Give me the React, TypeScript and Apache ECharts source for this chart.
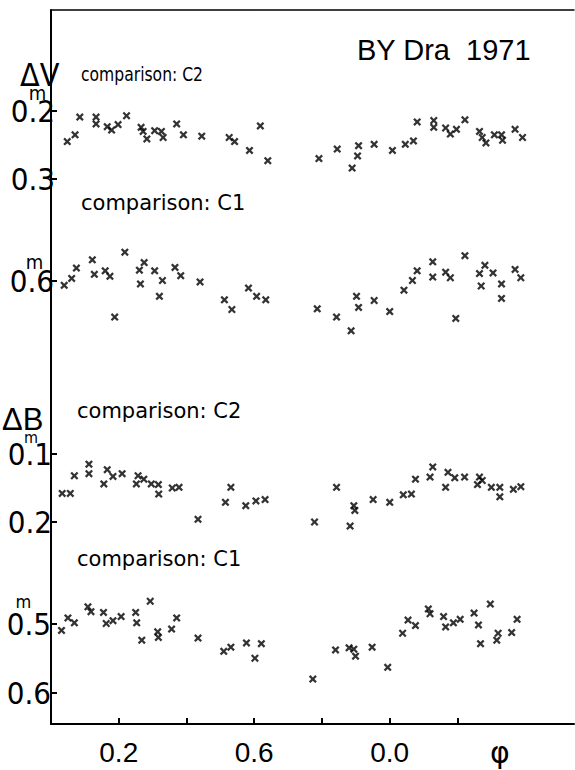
import React, { useEffect, useRef } from "react";
import * as echarts from "echarts";

// ΔV, comparison C2
const vC2Phase = [0.048, 0.071, 0.085, 0.133, 0.133, 0.166, 0.179, 0.198, 0.223, 0.266, 0.272, 0.283, 0.306, 0.326, 0.331, 0.371, 0.391, 0.445, 0.526, 0.542, 0.586, 0.618, 0.640, 0.791, 0.845, 0.889, 0.905, 0.908, 0.954, 1.008, 1.046, 1.070, 1.081, 1.130, 1.130, 1.165, 1.179, 1.197, 1.222, 1.265, 1.273, 1.284, 1.309, 1.330, 1.333, 1.370, 1.392];
const vC2Mag = [0.245, 0.235, 0.209, 0.209, 0.219, 0.223, 0.228, 0.220, 0.207, 0.224, 0.230, 0.241, 0.229, 0.230, 0.239, 0.219, 0.235, 0.237, 0.239, 0.245, 0.258, 0.222, 0.273, 0.270, 0.256, 0.284, 0.266, 0.251, 0.249, 0.258, 0.249, 0.244, 0.216, 0.214, 0.224, 0.225, 0.234, 0.227, 0.213, 0.230, 0.239, 0.247, 0.235, 0.235, 0.243, 0.227, 0.239];

// ΔV, comparison C1
const vC1Phase = [0.039, 0.061, 0.075, 0.122, 0.128, 0.160, 0.174, 0.188, 0.218, 0.261, 0.264, 0.275, 0.306, 0.320, 0.329, 0.366, 0.383, 0.440, 0.512, 0.534, 0.583, 0.607, 0.634, 0.786, 0.843, 0.886, 0.902, 0.908, 0.954, 1.000, 1.042, 1.067, 1.081, 1.127, 1.127, 1.165, 1.179, 1.195, 1.222, 1.265, 1.270, 1.281, 1.305, 1.330, 1.330, 1.370, 1.387];
const vC1Mag = [0.607, 0.597, 0.582, 0.570, 0.591, 0.586, 0.594, 0.653, 0.559, 0.585, 0.605, 0.574, 0.586, 0.623, 0.600, 0.581, 0.593, 0.602, 0.628, 0.642, 0.611, 0.623, 0.628, 0.641, 0.653, 0.673, 0.623, 0.639, 0.629, 0.645, 0.614, 0.600, 0.586, 0.573, 0.595, 0.588, 0.596, 0.655, 0.564, 0.590, 0.608, 0.578, 0.589, 0.605, 0.626, 0.584, 0.596];

// ΔB, comparison C2
const bC2Phase = [0.033, 0.057, 0.069, 0.112, 0.112, 0.156, 0.166, 0.183, 0.210, 0.252, 0.257, 0.274, 0.296, 0.317, 0.318, 0.358, 0.378, 0.434, 0.515, 0.531, 0.575, 0.605, 0.632, 0.778, 0.843, 0.883, 0.894, 0.897, 0.951, 1.000, 1.040, 1.064, 1.076, 1.119, 1.127, 1.165, 1.172, 1.192, 1.221, 1.259, 1.265, 1.273, 1.300, 1.325, 1.325, 1.365, 1.387];
const bC2Mag = [0.158, 0.158, 0.132, 0.115, 0.129, 0.144, 0.123, 0.133, 0.129, 0.144, 0.132, 0.137, 0.144, 0.145, 0.159, 0.150, 0.149, 0.196, 0.171, 0.149, 0.176, 0.169, 0.167, 0.200, 0.149, 0.206, 0.176, 0.183, 0.167, 0.171, 0.160, 0.159, 0.137, 0.134, 0.119, 0.149, 0.127, 0.135, 0.134, 0.145, 0.134, 0.139, 0.149, 0.149, 0.163, 0.152, 0.148];

// ΔB, comparison C1
const bC1Phase = [0.031, 0.050, 0.069, 0.109, 0.118, 0.155, 0.163, 0.183, 0.207, 0.250, 0.253, 0.268, 0.293, 0.315, 0.317, 0.356, 0.371, 0.434, 0.510, 0.531, 0.577, 0.602, 0.621, 0.773, 0.840, 0.880, 0.894, 0.899, 0.948, 0.994, 1.038, 1.054, 1.076, 1.114, 1.119, 1.159, 1.165, 1.188, 1.208, 1.249, 1.262, 1.268, 1.297, 1.316, 1.320, 1.360, 1.376];
const bC1Mag = [0.510, 0.492, 0.499, 0.476, 0.483, 0.484, 0.500, 0.496, 0.490, 0.484, 0.499, 0.524, 0.468, 0.512, 0.520, 0.508, 0.492, 0.521, 0.540, 0.534, 0.528, 0.550, 0.529, 0.580, 0.538, 0.535, 0.537, 0.547, 0.534, 0.563, 0.514, 0.495, 0.503, 0.479, 0.486, 0.490, 0.505, 0.499, 0.494, 0.485, 0.502, 0.529, 0.472, 0.524, 0.514, 0.513, 0.494];

const phaseTicks = [0.2, 0.4, 0.6, 0.8, 1.0, 1.2];
const phaseLabels = [0.2, 0.6, 1.0];
const vC2Ticks = [0.2, 0.3];
const vC1Ticks = [0.6];
const bC2Ticks = [0.1, 0.2];
const bC1Ticks = [0.5, 0.6];

const X_MIN = 0;
const X_MAX = 1.544;

const CROSS =
  "path://M0,2 L2,0 L5,3 L8,0 L10,2 L7,5 L10,8 L8,10 L5,7 L2,10 L0,8 L3,5 Z";

const NARROW = "'Liberation Sans Narrow', 'DejaVu Sans Condensed', sans-serif";
const SANS = "'Liberation Sans', Arial, sans-serif";
const DEJAVU = "'DejaVu Sans', sans-serif";

function zip(a: number[], b: number[]) {
  return a.map((x, i) => [x, b[i]]);
}

function panelY(idx: number, min: number, max: number, ticks: number[], margin: number) {
  return {
    gridIndex: idx,
    type: "value",
    inverse: true,
    min,
    max,
    axisLine: { show: false },
    splitLine: { show: false },
    axisTick: {
      show: true,
      inside: true,
      length: 6,
      customValues: ticks,
      lineStyle: { color: "#000", width: 2 },
    },
    axisLabel: {
      show: true,
      customValues: ticks,
      margin,
      fontSize: 31,
      fontFamily: NARROW,
      color: "#000",
      formatter: (v: number) => v.toFixed(1),
    },
  };
}

function panelX(idx: number) {
  return { gridIndex: idx, type: "value", min: X_MIN, max: X_MAX, show: false };
}

function scatter(idx: number, xs: number[], ys: number[]) {
  return {
    type: "scatter",
    xAxisIndex: idx + 1,
    yAxisIndex: idx,
    data: zip(xs, ys),
    symbol: CROSS,
    symbolSize: 8,
    clip: false,
    silent: true,
    itemStyle: { color: "#000" },
  };
}

export default function App() {
  const ref = useRef<HTMLDivElement>(null);
  useEffect(() => {
    document.body.style.margin = "0";
    if (!ref.current) return;
    const chart = echarts.init(ref.current, null, { renderer: "svg" });
    const txt = (
      text: string,
      x: number,
      y: number,
      fontSize: number,
      family: string,
      align = "left",
      scaleX = 1
    ) => ({
      type: "text",
      x,
      y,
      scaleX,
      silent: true,
      style: {
        text,
        fill: "#000",
        font: `${fontSize}px ${family}`,
        textAlign: align,
        textVerticalAlign: "middle",
      },
    });
    chart.setOption({
      animation: false,
      backgroundColor: "#fff",
      grid: [
        { left: 51, width: 523, top: 10, height: 714 },
        { left: 51, width: 523, top: 77, height: 102 },
        { left: 51, width: 523, top: 211.5, height: 138 },
        { left: 51, width: 523, top: 420, height: 136 },
        { left: 51, width: 523, top: 588.75, height: 139 },
      ],
      xAxis: [
        {
          gridIndex: 0,
          type: "value",
          position: "bottom",
          min: X_MIN,
          max: X_MAX,
          splitLine: { show: false },
          axisLine: { show: true, onZero: false, lineStyle: { color: "#000", width: 2 } },
          axisTick: {
            show: true,
            inside: true,
            length: 6,
            customValues: phaseTicks,
            lineStyle: { color: "#000", width: 2 },
          },
          axisLabel: {
            show: true,
            customValues: phaseLabels,
            margin: 14,
            fontSize: 28,
            fontFamily: SANS,
            color: "#000",
            formatter: (v: number) => (Math.abs(v - 1) < 1e-6 ? "0.0" : v.toFixed(1)),
          },
        },
        panelX(1),
        panelX(2),
        panelX(3),
        panelX(4),
        {
          gridIndex: 0,
          type: "value",
          position: "top",
          min: X_MIN,
          max: X_MAX,
          splitLine: { show: false },
          axisLine: { show: true, onZero: false, lineStyle: { color: "#000", width: 1.5 } },
          axisTick: { show: false },
          axisLabel: { show: false },
        },
      ],
      yAxis: [
        panelY(1, 0.15, 0.3, vC2Ticks, -4),
        panelY(2, 0.5, 0.7, vC1Ticks, -3),
        panelY(3, 0.05, 0.25, bC2Ticks, -1),
        panelY(4, 0.45, 0.65, bC1Ticks, 0),
        {
          gridIndex: 0,
          type: "value",
          min: 0,
          max: 1,
          splitLine: { show: false },
          axisLine: { show: true, onZero: false, lineStyle: { color: "#000", width: 2 } },
          axisTick: { show: false },
          axisLabel: { show: false },
        },
      ],
      series: [
        scatter(0, vC2Phase, vC2Mag),
        scatter(1, vC1Phase, vC1Mag),
        scatter(2, bC2Phase, bC2Mag),
        scatter(3, bC1Phase, bC1Mag),
      ],
      graphic: [
        txt("BY Dra  1971", 357, 50, 29, SANS),
        txt("comparison: C2", 81, 74, 20, DEJAVU, "left", 0.78),
        txt("comparison: C1", 81, 203, 21, DEJAVU),
        txt("comparison: C2", 77, 411, 21, DEJAVU),
        txt("comparison: C1", 77, 559, 21, DEJAVU),
        txt("ΔV", 20, 75, 32, NARROW),
        txt("m", 37.5, 93, 20, NARROW, "center"),
        txt("m", 34.5, 262, 20, NARROW, "center"),
        txt("ΔB", 2, 419, 31, SANS),
        txt("m", 31, 437, 16, NARROW, "center"),
        txt("m", 23.5, 601, 18, NARROW, "center"),
        txt("φ", 500, 752, 30, DEJAVU, "center"),
      ],
    });
    return () => chart.dispose();
  }, []);
  return <div ref={ref} style={{ width: 575, height: 770 }} />;
}
